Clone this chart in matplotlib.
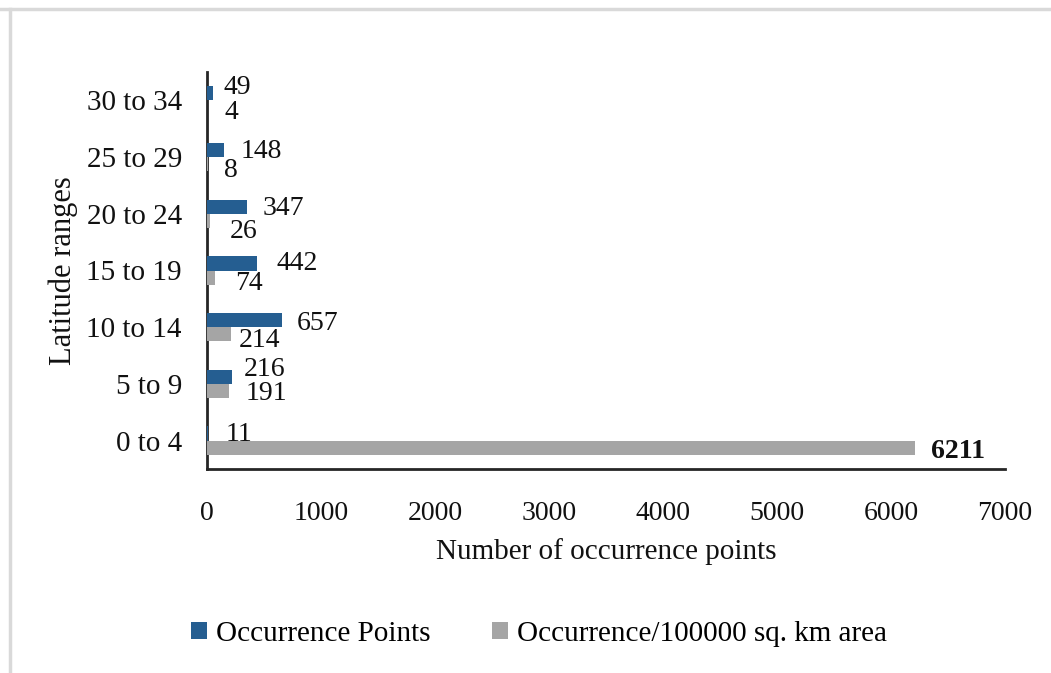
import matplotlib.pyplot as plt
from matplotlib.patches import Patch
from matplotlib.lines import Line2D
import numpy as np

plt.rcParams['font.family'] = ['Liberation Serif', 'DejaVu Serif']

# Latitude bands, top of list = bottom of chart
categories = ['0 to 4', '5 to 9', '10 to 14', '15 to 19', '20 to 24', '25 to 29', '30 to 34']
occurrence_points = [11, 216, 657, 442, 347, 148, 49]
occurrence_density = [6211, 191, 214, 74, 26, 8, 4]
x_ticks = [0, 1000, 2000, 3000, 4000, 5000, 6000, 7000]

# Label nudges (pixels) from each bar end
pts_offsets = [(31, 1), (33, -7), (36, 3), (40, 0), (37, 2), (37, 2), (25, -6)]
dens_offsets = [(43, 4), (38, 2), (28, 6), (34, 6), (34, 11), (23, 6), (24, 5)]

blue = '#255E91'
gray = '#A5A5A5'
txt = '#111111'

fig = plt.figure(figsize=(10.51, 6.73), dpi=100)
ax = fig.add_axes([207 / 1051, 1 - 469 / 673, (1005 - 207) / 1051, (469 - 72) / 673])

y = np.arange(len(categories))
h = 0.25
ax.barh(y + h / 2, occurrence_points, height=h, color=blue, zorder=3)
ax.barh(y - h / 2, occurrence_density, height=h, color=gray, zorder=3)

for i, v in enumerate(occurrence_points):
    dx, dy = pts_offsets[i]
    ax.annotate(str(v), (v, y[i] + h / 2), xytext=(dx, -dy), textcoords='offset pixels',
                ha='center', va='center', fontsize=20, color=txt)
for i, v in enumerate(occurrence_density):
    dx, dy = dens_offsets[i]
    ax.annotate(str(v), (v, y[i] - h / 2), xytext=(dx, -dy), textcoords='offset pixels',
                ha='center', va='center', fontsize=20, color=txt,
                fontweight='bold' if v == max(occurrence_density) else 'normal')

ax.set_xlim(0, 7000)
ax.set_ylim(-0.5, len(categories) - 0.5)
ax.set_xticks(x_ticks)
ax.set_xticklabels([str(t) for t in x_ticks], fontsize=20)
ax.set_yticks(y)
ax.set_yticklabels(categories, fontsize=21)
ax.tick_params(axis='both', length=0, colors=txt)
ax.tick_params(axis='x', pad=23)
ax.tick_params(axis='y', pad=18)

for s in ['top', 'right']:
    ax.spines[s].set_visible(False)
for s in ['left', 'bottom']:
    ax.spines[s].set_color('#262626')
    ax.spines[s].set_linewidth(2)

ax.set_xlabel('Number of occurrence points', fontsize=21, labelpad=9, color=txt)
ax.set_ylabel('Latitude ranges', fontsize=22, labelpad=6, color=txt)

handles = [Patch(facecolor=blue, edgecolor='none'), Patch(facecolor=gray, edgecolor='none')]
fig.legend(handles, ['Occurrence Points', 'Occurrence/100000 sq. km area'],
           loc='center', bbox_to_anchor=(539 / 1051, 1 - 634 / 673), ncol=2, frameon=False,
           fontsize=21, handlelength=0.55, handleheight=0.55, handletextpad=0.3, columnspacing=2.1)

# Outer frame lines along the top and left edge
fig.add_artist(Line2D([0, 1], [1 - 9 / 673, 1 - 9 / 673], transform=fig.transFigure,
                      color='#D9D9D9', lw=2.5))
fig.add_artist(Line2D([9.5 / 1051, 9.5 / 1051], [0, 1 - 9 / 673], transform=fig.transFigure,
                      color='#D9D9D9', lw=2.5))

fig.savefig('out.png', dpi=100)
